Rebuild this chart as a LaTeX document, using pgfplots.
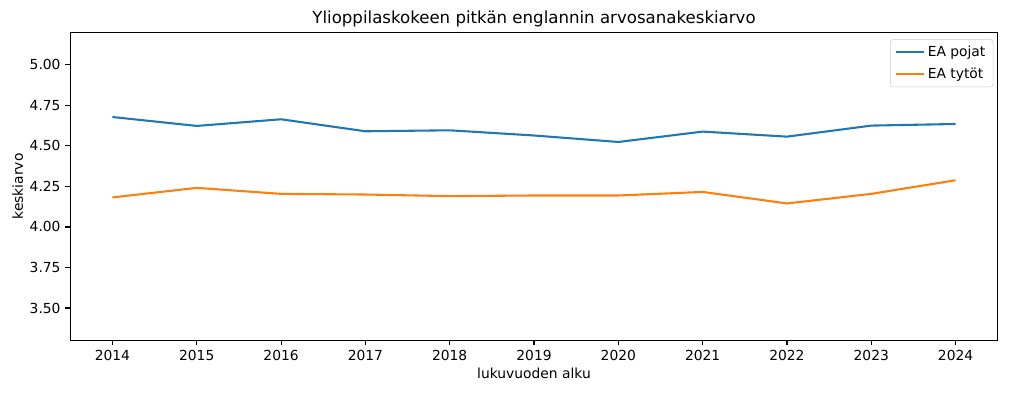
\documentclass[border=0pt]{standalone}
\usepackage{pgfplots}
\pgfplotsset{compat=1.18}
\usepackage{fontspec}
\setmainfont{DejaVu Sans}
\definecolor{tabblue}{HTML}{1F77B4}
\definecolor{taborange}{HTML}{FF7F0E}
\begin{document}
\fontsize{10}{12}\selectfont
\begin{tikzpicture}
\begin{axis}[
  name=ax,
  scale only axis,
  width=667.7bp, height=221.8bp,
  xmin=2013.5, xmax=2024.5,
  ymin=3.3, ymax=5.2,
  xtick={2014,2015,...,2024},
  ytick={3.5,3.75,4,4.25,4.5,4.75,5},
  xticklabel style={/pgf/number format/.cd,1000 sep={},fixed},
  yticklabel style={/pgf/number format/.cd,fixed,fixed zerofill,precision=2},
  /pgf/number format/assume math mode=true,
  tick label style={font=\fontsize{10}{12}\selectfont},
  tick align=outside,
  tick pos=left,
  major tick length=3.5bp,
  axis line style={line width=0.8bp},
  every tick/.style={black,line width=0.8bp},
  title={Ylioppilaskokeen pitkän englannin arvosanakeskiarvo},
  title style={font=\fontsize{12}{14}\selectfont, yshift=-5.6bp},
  xlabel={lukuvuoden alku},
  ylabel={keskiarvo},
  label style={font=\fontsize{10}{12}\selectfont},
  xlabel style={yshift=1.5bp},
  ylabel style={yshift=-2bp},
  legend style={at={(rel axis cs:1,1)}, anchor=north east,
    xshift=-3.2bp, yshift=-5bp,
    draw=black!20, rounded corners=2bp, fill=white, fill opacity=0.8, text opacity=1,
    font=\fontsize{10}{12}\selectfont, inner xsep=3.5bp, inner ysep=2.5bp,
    row sep=3bp},
  legend cell align=left,
  legend image code/.code={\draw[#1] (0bp,0bp) -- (20bp,0bp);},
]
\addplot[tabblue, line width=1.5bp] coordinates {
(2014,4.678) (2015,4.623) (2016,4.664) (2017,4.590) (2018,4.596)
(2019,4.564) (2020,4.524) (2021,4.588) (2022,4.557) (2023,4.625) (2024,4.635)};
\addlegendentry{EA pojat}
\addplot[taborange, line width=1.5bp] coordinates {
(2014,4.182) (2015,4.241) (2016,4.204) (2017,4.200) (2018,4.190)
(2019,4.194) (2020,4.194) (2021,4.216) (2022,4.145) (2023,4.204) (2024,4.288)};
\addlegendentry{EA tytöt}
\end{axis}
\pgfresetboundingbox
\useasboundingbox ([xshift=-50.6bp,yshift=-37.9bp]ax.south west) rectangle ([xshift=8.1bp,yshift=23.3bp]ax.north east);
\end{tikzpicture}
\end{document}
